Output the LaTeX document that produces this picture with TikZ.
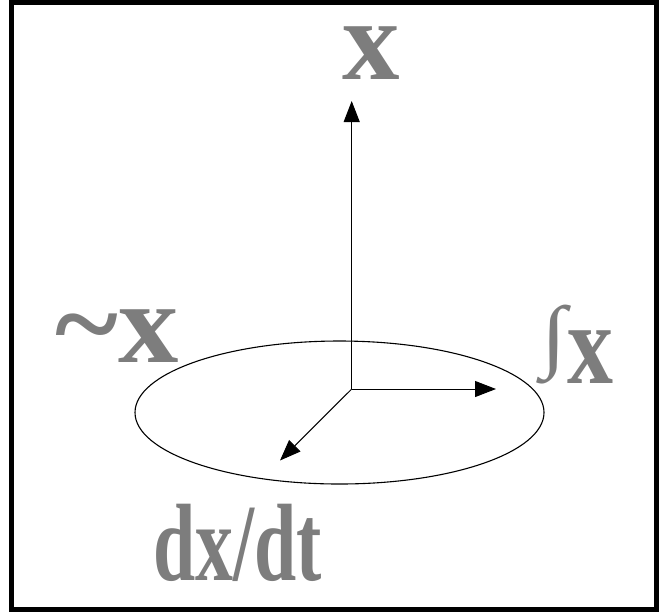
\documentclass[tikz,border=0pt]{standalone}
\usepackage{fontspec}
\setmainfont{Liberation Serif}
\usetikzlibrary{arrows.meta,shapes.geometric}
\definecolor{wordart}{RGB}{125,125,125}
\tikzset{
  axis/.style={line width=1pt,-{Triangle[length=21pt,width=16pt]}},
  lbl/.style={inner sep=0pt,text=wordart,font=\bfseries\fontsize{115}{115}\selectfont},
  frame/.style={line width=5pt,draw=black},
  orbitstyle/.style={draw=black,line width=1.1pt,ellipse,minimum width=409pt,minimum height=143pt,inner sep=0pt}
}
\begin{document}
\begin{tikzpicture}[x=1pt,y=-1pt]
\useasboundingbox (0,0) rectangle (660,614);
\draw[frame] (11,2.5) rectangle (656,609.5);
\node[orbitstyle] (orbit) at (339.5,412.5) {};
\coordinate (O) at (351.7,389);
\coordinate (topTip) at (351.7,101);
\coordinate (rightTip) at (496,389);
\coordinate (diagTip) at (280,460.5);
\draw[axis] (O) -- (topTip);
\draw[axis] (O) -- (rightTip);
\draw[axis] (O) -- (diagTip);
\node[lbl] (lx) at (371.5,53) {x};
\node[lbl,xscale=1.05] (lnot) at (117,336) {\char"007Ex};
\node[lbl,xscale=0.8] (lint) at (577.5,345) {\raisebox{21pt}{\scalebox{1}[0.7]{∫}}x};
\node[lbl,xscale=0.69,font=\bfseries\fontsize{110}{110}\selectfont] (ldx) at (237.5,543) {dx/dt};
\end{tikzpicture}
\end{document}
